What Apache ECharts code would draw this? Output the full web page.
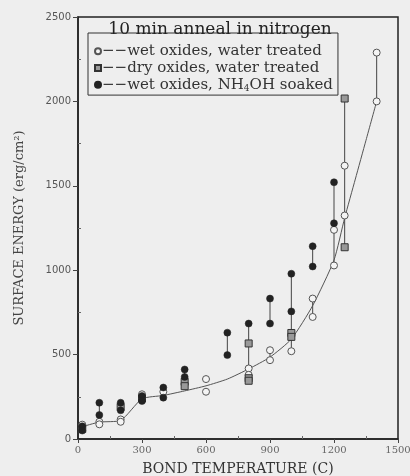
<!DOCTYPE html>
<html>
<head>
<meta charset="utf-8">
<script src="https://cdn.jsdelivr.net/npm/echarts@6/dist/echarts.min.js"></script>
<style>
html,body{margin:0;padding:0;background:#eeeeee;}
#c{width:410px;height:476px;}
</style>
</head>
<body>
<div id="c"></div>
<script>
// x ticks / y ticks
const xTicks = [0, 300, 600, 900, 1200, 1500];
const yTicks = [0, 500, 1000, 1500, 2000, 2500];

// wet oxides, water treated (open circles)
const wetWaterT = [20, 100, 100, 200, 200, 300, 400, 600, 600, 800, 800, 900, 900, 1000, 1100, 1100, 1200, 1200, 1250, 1250, 1400, 1400];
const wetWaterE = [85, 102, 87, 116, 102, 265, 280, 355, 280, 418, 380, 526, 467, 520, 832, 723, 1239, 1028, 1619, 1324, 2289, 2000];

// dry oxides, water treated (hatched)
const dryWaterT = [20, 200, 300, 500, 500, 800, 800, 800, 1000, 1000, 1250, 1250];
const dryWaterE = [60, 190, 240, 339, 313, 566, 360, 345, 628, 605, 2017, 1136];

// wet oxides, NH4OH soaked (filled circles)
const nh4T = [20, 20, 100, 100, 200, 200, 300, 300, 400, 400, 500, 500, 700, 700, 800, 900, 900, 1000, 1000, 1100, 1100, 1200, 1200];
const nh4E = [75, 50, 215, 142, 215, 170, 255, 225, 305, 245, 412, 368, 630, 497, 684, 832, 684, 979, 756, 1142, 1022, 1521, 1278];

// fitted curve
const fitT = [20, 100, 200, 300, 400, 500, 600, 700, 800, 900, 1000, 1100, 1200, 1250, 1300, 1350, 1400];
const fitE = [73, 100, 110, 238, 258, 285, 315, 355, 415, 485, 592, 790, 1060, 1310, 1540, 1770, 2000];

// vertical spread bars
const rangeT = [100, 200, 500, 700, 800, 900, 900, 1000, 1100, 1100, 1200, 1200, 1250, 1400];
const rangeLo = [142, 170, 313, 497, 349, 684, 467, 520, 1022, 723, 1278, 1028, 1136, 2000];
const rangeHi = [215, 215, 412, 630, 684, 832, 526, 979, 1142, 832, 1521, 1239, 2017, 2289];

const labels = {
  wet: '−−wet oxides, water treated',
  dry: '−−dry oxides, water treated',
  nh4: '−−wet oxides, NH{sub|4}OH soaked'
};

const zip = (a, b) => a.map((v, i) => [v, b[i]]);
const serif = 'DejaVu Serif';

const chart = echarts.init(document.getElementById('c'), null, {renderer: 'canvas'});
chart.setOption({
  backgroundColor: '#eeeeee',
  animation: false,
  title: {
    text: '10 min anneal in nitrogen',
    left: 215, top: 16, textAlign: 'center',
    textStyle: {fontFamily: serif, fontSize: 17, fontWeight: 'normal', color: '#222'}
  },
  legend: {
    left: 88, top: 33, orient: 'vertical',
    itemWidth: 6, itemHeight: 6, itemGap: 0,
    padding: [10, 5, 2, 6],
    borderColor: '#333', borderWidth: 1,
    data: ['wet', 'dry', 'nh4'],
    formatter: name => labels[name],
    textStyle: {
      fontFamily: serif, fontSize: 15, lineHeight: 16.7, color: '#333', padding: [0, 0, 0, -4],
      rich: {sub: {fontFamily: serif, fontSize: 9, color: '#333', verticalAlign: 'bottom', padding: [7, 0, 0, 0]}}
    }
  },
  grid: {left: 78, right: 12, top: 17, bottom: 37, outerBoundsMode: 'none', containLabel: false, show: true, borderColor: '#222', borderWidth: 1.5, backgroundColor: 'transparent'},
  xAxis: {
    type: 'value', min: xTicks[0], max: xTicks[xTicks.length - 1], interval: 300,
    name: 'BOND TEMPERATURE (C)', nameLocation: 'middle', nameGap: 23,
    nameTextStyle: {fontFamily: serif, fontSize: 14, color: '#333'},
    axisLine: {lineStyle: {color: '#222', width: 1.5}},
    axisTick: {length: 4, lineStyle: {color: '#444'}},
    minorTick: {show: true, splitNumber: 2, length: -3, lineStyle: {color: '#666'}},
    axisLabel: {fontFamily: serif, fontSize: 10, color: '#666', margin: 6, formatter: v => String(v)},
    splitLine: {show: false}
  },
  yAxis: {
    type: 'value', min: yTicks[0], max: yTicks[yTicks.length - 1], interval: 500,
    name: 'SURFACE ENERGY (erg/cm²)', nameLocation: 'middle', nameGap: 52,
    nameTextStyle: {fontFamily: serif, fontSize: 13, color: '#444'},
    axisLine: {lineStyle: {color: '#222', width: 1.5}},
    axisTick: {length: 5, lineStyle: {color: '#444'}},
    minorTick: {show: true, splitNumber: 2, length: -3, lineStyle: {color: '#666'}},
    axisLabel: {fontFamily: 'DejaVu Sans', fontSize: 10, color: '#555', margin: 7, formatter: v => String(v)},
    splitLine: {show: false}
  },
  series: [
    {
      type: 'custom', z: 1, silent: true,
      renderItem: (params, api) => {
        const p1 = api.coord([api.value(0), api.value(1)]);
        const p2 = api.coord([api.value(0), api.value(2)]);
        return {type: 'line', shape: {x1: p1[0], y1: p1[1], x2: p2[0], y2: p2[1]}, style: {stroke: '#444', lineWidth: 1}};
      },
      encode: {x: 0, y: [1, 2]},
      data: rangeT.map((t, i) => [t, rangeLo[i], rangeHi[i]])
    },
    {
      type: 'line', z: 2, data: zip(fitT, fitE), showSymbol: false, smooth: 0.2,
      lineStyle: {color: '#555', width: 1}, silent: true
    },
    {
      name: 'wet', type: 'scatter', z: 3, data: zip(wetWaterT, wetWaterE),
      symbol: 'circle', symbolSize: 7,
      itemStyle: {color: '#f4f4f4', borderColor: '#555', borderWidth: 1, opacity: 1}
    },
    {
      name: 'dry', type: 'scatter', z: 3, data: zip(dryWaterT, dryWaterE),
      symbol: 'path://M0,0L10,0L10,10L0,10Z', symbolSize: 7,
      itemStyle: {color: '#999', borderColor: '#333', borderWidth: 1, opacity: 1}
    },
    {
      name: 'nh4', type: 'scatter', z: 4, data: zip(nh4T, nh4E),
      symbol: 'circle', symbolSize: 7,
      itemStyle: {color: '#222', borderColor: '#222', borderWidth: 0.5, opacity: 1}
    }
  ]
});
</script>
</body>
</html>
